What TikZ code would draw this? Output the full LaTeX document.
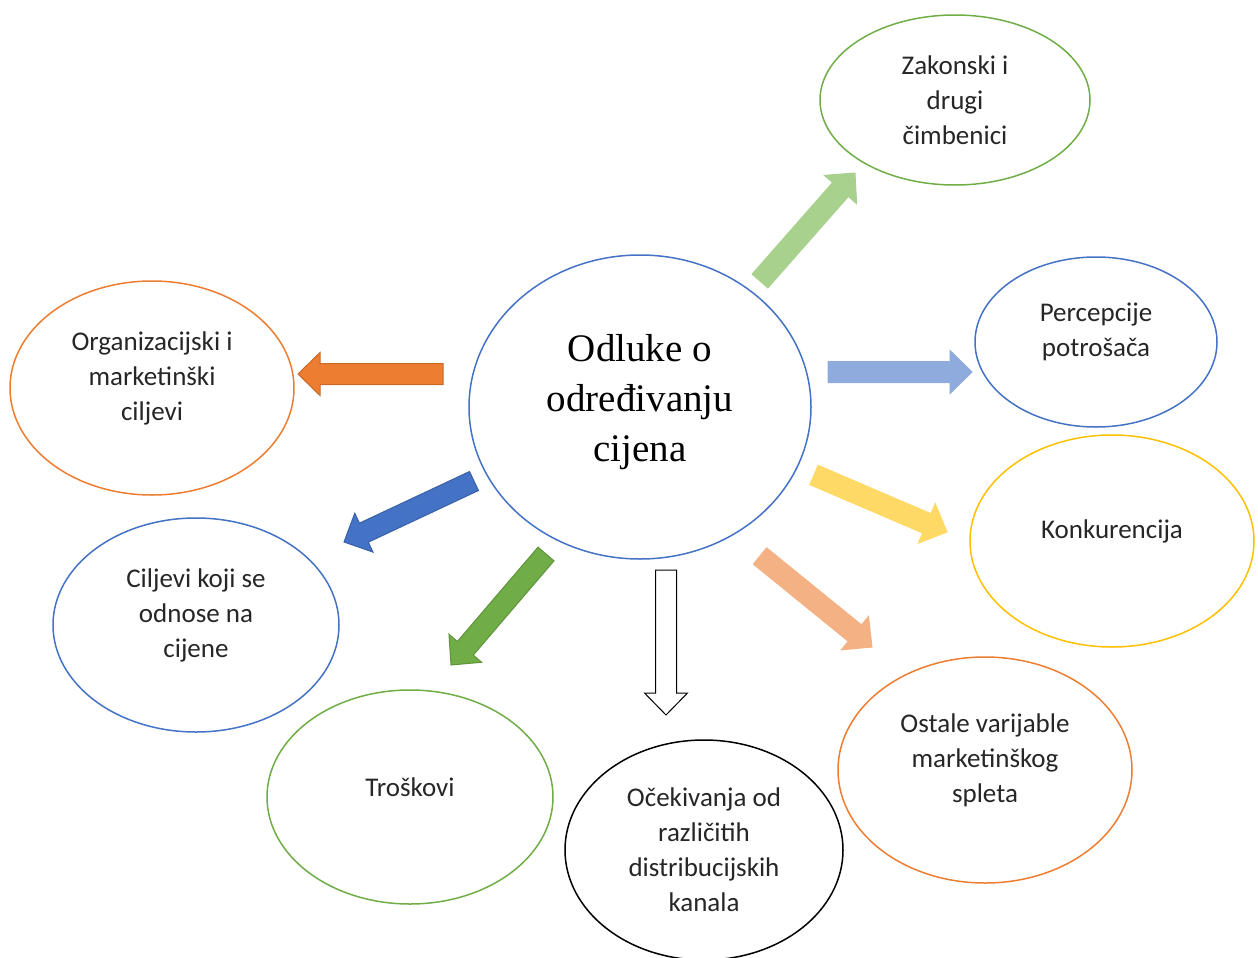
\documentclass[tikz,border=0pt]{standalone}
\usepackage{fontspec}
\setmainfont{Liberation Serif}
\newfontfamily\lblfont{Carlito}
\usetikzlibrary{positioning, calc, shapes.geometric}
\definecolor{accGreen}{HTML}{70AD47}
\definecolor{accBlue}{HTML}{4472C4}
\definecolor{accGold}{HTML}{FFC000}
\definecolor{accOrange}{HTML}{ED7D31}
\definecolor{arLtGreen}{HTML}{A9D18E}
\definecolor{arLtBlue}{HTML}{8FAADC}
\definecolor{arLtGold}{HTML}{FFD966}
\definecolor{arLtOrange}{HTML}{F4B183}
\definecolor{txtGray}{HTML}{262626}
% block arrow: #1 start, #2 tip, #3 fill, #4 outline
\newcommand{\blockarrow}[4]{%
  \coordinate (hb) at ($(#2)!11pt!(#1)$);
  \filldraw[fill=#3, draw=#4, line width=0.5pt, line join=miter]
    ($(#1)!5.25pt!90:(#2)$) -- ($(hb)!5.25pt!90:(#2)$) -- ($(hb)!10.75pt!90:(#2)$)
    -- (#2) -- ($(hb)!10.75pt!-90:(#2)$) -- ($(hb)!5.25pt!-90:(#2)$)
    -- ($(#1)!5.25pt!-90:(#2)$) -- cycle;}

\begin{document}
\begin{tikzpicture}[x=0.5pt, y=-0.5pt,
  ell/.style={ellipse, draw=#1, line width=0.75pt, inner sep=0pt},
  txt/.style={align=center, text=txtGray, font=\lblfont\fontsize{13.5}{17.5}\selectfont}]
\useasboundingbox (0,0) rectangle (1258,958);
% decision in the middle
\node[ell=accBlue, minimum width=171pt, minimum height=152pt, label={[align=center, font=\fontsize{19.5}{25}\selectfont, yshift=2.5pt]center:{Odluke o\\određivanju\\cijena}}] (odl) at (640,407) {};
% factors
\node[ell=accGreen, minimum width=135pt, minimum height=85pt, label={[txt, yshift=0pt]center:{Zakonski i\\drugi\\čimbenici}}] (zak) at (955,100) {};
\node[ell=accBlue, minimum width=121pt, minimum height=85pt, label={[txt, yshift=5pt]center:{Percepcije\\potrošača}}] (perc) at (1096,342) {};
\node[ell=accGold, minimum width=142pt, minimum height=106pt, label={[txt, yshift=5pt]center:{Konkurencija}}] (konk) at (1112,541) {};
\node[ell=accOrange, minimum width=147pt, minimum height=113pt, label={[txt, yshift=5pt]center:{Ostale varijable\\marketinškog\\spleta}}] (ost) at (985,770) {};
\node[ell=black, minimum width=139pt, minimum height=110pt, label={[txt, yshift=0pt]center:{Očekivanja od\\različitih\\distribucijskih\\kanala}}] (oce) at (704,850) {};
\node[ell=accGreen, minimum width=143pt, minimum height=107pt, label={[txt, yshift=5pt]center:{Troškovi}}] (tros) at (410,797) {};
\node[ell=accBlue, minimum width=143pt, minimum height=107pt, label={[txt, yshift=5pt]center:{Ciljevi koji se\\odnose na\\cijene}}] (cilj) at (196,625) {};
\node[ell=accOrange, minimum width=142pt, minimum height=107pt, label={[txt, yshift=5pt]center:{Organizacijski i\\marketinški\\ciljevi}}] (org) at (152,388) {};
% arrow ends
\coordinate (zakS) at (760,281);  \coordinate (zakE) at (855,173);
\coordinate (percS) at (828,372); \coordinate (percE) at (972,372);
\coordinate (konkS) at (814,475); \coordinate (konkE) at (947,532);
\coordinate (ostS) at (760,556);  \coordinate (ostE) at (872,647);
\coordinate (oceS) at (666,570);  \coordinate (oceE) at (666,715);
\coordinate (trosS) at (546,554); \coordinate (trosE) at (451,665);
\coordinate (ciljS) at (474,481); \coordinate (ciljE) at (344,542);
\coordinate (orgS) at (443,374);  \coordinate (orgE) at (298,374);
\blockarrow{zakS}{zakE}{arLtGreen}{arLtGreen}
\blockarrow{percS}{percE}{arLtBlue}{arLtBlue}
\blockarrow{konkS}{konkE}{arLtGold}{arLtGold}
\blockarrow{ostS}{ostE}{arLtOrange}{arLtOrange}
\blockarrow{oceS}{oceE}{white}{black}
\blockarrow{trosS}{trosE}{accGreen}{accGreen!85!black}
\blockarrow{ciljS}{ciljE}{accBlue}{accBlue!85!black}
\blockarrow{orgS}{orgE}{accOrange}{accOrange!85!black}
\end{tikzpicture}
\end{document}
